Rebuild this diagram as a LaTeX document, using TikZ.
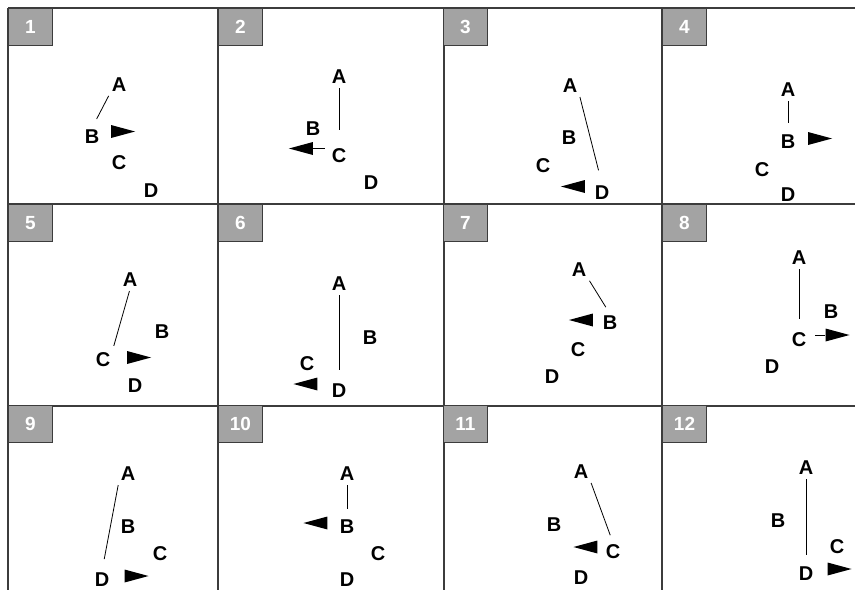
\documentclass[tikz,border=0pt]{standalone}
\usepackage{fontspec}
\setmainfont{Liberation Sans}
\usepackage{xcolor}
\definecolor{Frame}{HTML}{3C3C3C}
\definecolor{TagFill}{HTML}{A3A3A3}
\usetikzlibrary{shapes.geometric}
\tikzset{
  frame/.style={draw=Frame,line width=1.3pt},
  tag/.style={draw=Frame,fill=TagFill,line width=1pt,anchor=north west,
    minimum width=44pt,minimum height=37pt,inner sep=0pt,text=white,
    font=\fontsize{19}{19}\selectfont\bfseries},
  item/.style={inner sep=2pt,font=\fontsize{20}{20}\selectfont\bfseries},
  link/.style={draw=black,line width=0.8pt,shorten <=2pt,shorten >=10pt},
  ptr/.style={isosceles triangle,isosceles triangle stretches,fill=black,
    inner sep=0pt,minimum width=13pt,minimum height=24pt},
  ptrR/.style={ptr,shape border rotate=0},
  ptrL/.style={ptr,shape border rotate=180}
}

\begin{document}
\begin{tikzpicture}[x=1pt,y=-1pt]
  \useasboundingbox (0,0) rectangle (855,590);
  % grid
  \draw[frame] (8,8) -- (855,8);
  \draw[frame] (8,204) -- (855,204);
  \draw[frame] (8,406) -- (855,406);
  \draw[frame] (8,8) -- (8,590);
  \draw[frame] (218,8) -- (218,590);
  \draw[frame] (444,8) -- (444,590);
  \draw[frame] (662,8) -- (662,590);

  % panel 1
  \node[tag] (t1) at (8,8) {1};
  \node[item] (p1A) at (119,85) {A};
  \node[item] (p1B) at (92,137) {B};
  \node[item] (p1C) at (119,163) {C};
  \node[item] (p1D) at (151,191) {D};
  \node[ptrR] (p1P) at (116,131.5) {};
  \draw[link] (p1A.south west) -- (p1B.north);

  % panel 2
  \node[tag] (t2) at (218,8) {2};
  \node[item] (p2A) at (339,77) {A};
  \node[item] (p2B) at (313,129) {B};
  \node[item] (p2C) at (339,156) {C};
  \node[item] (p2D) at (371,183) {D};
  \node[ptrL] (p2P) at (308,148.5) {};
  \coordinate (p2T) at (325,148.5);
  \draw[line width=0.8pt] (p2P.east) -- (p2T);
  \draw[link,shorten >=17pt] (p2A) -- (p2C);

  % panel 3
  \node[tag] (t3) at (443,8) {3};
  \node[item] (p3A) at (570,86) {A};
  \node[item] (p3B) at (569,138) {B};
  \node[item] (p3C) at (543,166) {C};
  \node[item] (p3D) at (602,193) {D};
  \node[ptrL] (p3P) at (580,186.5) {};
  \draw[link,shorten >=14pt] (p3A.south east) -- (p3D.north);

  % panel 4
  \node[tag] (t4) at (662,8) {4};
  \node[item] (p4A) at (788,90) {A};
  \node[item] (p4B) at (788,142) {B};
  \node[item] (p4C) at (762,170) {C};
  \node[item] (p4D) at (788,195) {D};
  \node[ptrR] (p4P) at (813,138.5) {};
  \draw[link] (p4A) -- (p4B);

  % panel 5
  \node[tag] (t5) at (8,204) {5};
  \node[item] (p5A) at (130,280) {A};
  \node[item] (p5B) at (162,332) {B};
  \node[item] (p5C) at (103,360) {C};
  \node[item] (p5D) at (135,386) {D};
  \node[ptrR] (p5P) at (132,357.5) {};
  \draw[link,shorten >=5pt] (p5A.south) -- (p5C.north east);

  % panel 6
  \node[tag] (t6) at (218,204) {6};
  \node[item] (p6A) at (339,284) {A};
  \node[item] (p6B) at (370,338) {B};
  \node[item] (p6C) at (307,364) {C};
  \node[item] (p6D) at (339,391) {D};
  \node[ptrL] (p6P) at (312.5,384) {};
  \draw[link,shorten >=12pt] (p6A) -- (p6D);

  % panel 7
  \node[tag] (t7) at (443,204) {7};
  \node[item] (p7A) at (579,270) {A};
  \node[item] (p7B) at (610,323) {B};
  \node[item] (p7C) at (578,350) {C};
  \node[item] (p7D) at (552,377) {D};
  \node[ptrL] (p7P) at (588,320) {};
  \draw[link,shorten >=8pt] (p7A.south east) -- (p7B.north);

  % panel 8
  \node[tag] (t8) at (662,204) {8};
  \node[item] (p8A) at (799,258) {A};
  \node[item] (p8B) at (831,312) {B};
  \node[item] (p8C) at (799,340) {C};
  \node[item] (p8D) at (772,367) {D};
  \node[ptrR] (p8P) at (830.5,335) {};
  \coordinate (p8T) at (815,335);
  \draw[line width=0.8pt] (p8T) -- (p8P.west);
  \draw[link,shorten >=12pt] (p8A) -- (p8C);

  % panel 9
  \node[tag] (t9) at (8,405) {9};
  \node[item] (p9A) at (128,474) {A};
  \node[item] (p9B) at (128,527) {B};
  \node[item] (p9C) at (160,554) {C};
  \node[item] (p9D) at (102,580) {D};
  \node[ptrR] (p9P) at (129.5,576) {};
  \draw[link,shorten >=12pt] (p9A.south west) -- (p9D.north);

  % panel 10
  \node[tag] (t10) at (218,405) {10};
  \node[item] (p10A) at (347,474) {A};
  \node[item] (p10B) at (347,527) {B};
  \node[item] (p10C) at (378,554) {C};
  \node[item] (p10D) at (347,579.5) {D};
  \node[ptrL] (p10P) at (322.5,523) {};
  \draw[link,shorten >=9pt] (p10A) -- (p10B);

  % panel 11
  \node[tag] (t11) at (443,405) {11};
  \node[item] (p11A) at (581,472) {A};
  \node[item] (p11B) at (554,525) {B};
  \node[item] (p11C) at (613,552) {C};
  \node[item] (p11D) at (581,578) {D};
  \node[ptrL] (p11P) at (592.5,547) {};
  \draw[link,shorten >=8pt] (p11A.south east) -- (p11C.north);

  % panel 12
  \node[tag] (t12) at (662,405) {12};
  \node[item] (p12A) at (806,468) {A};
  \node[item] (p12B) at (778,521) {B};
  \node[item] (p12C) at (837,547) {C};
  \node[item] (p12D) at (806,574) {D};
  \node[ptrR] (p12P) at (832.5,569) {};
  \draw[link] (p12A) -- (p12D);
\end{tikzpicture}
\end{document}
